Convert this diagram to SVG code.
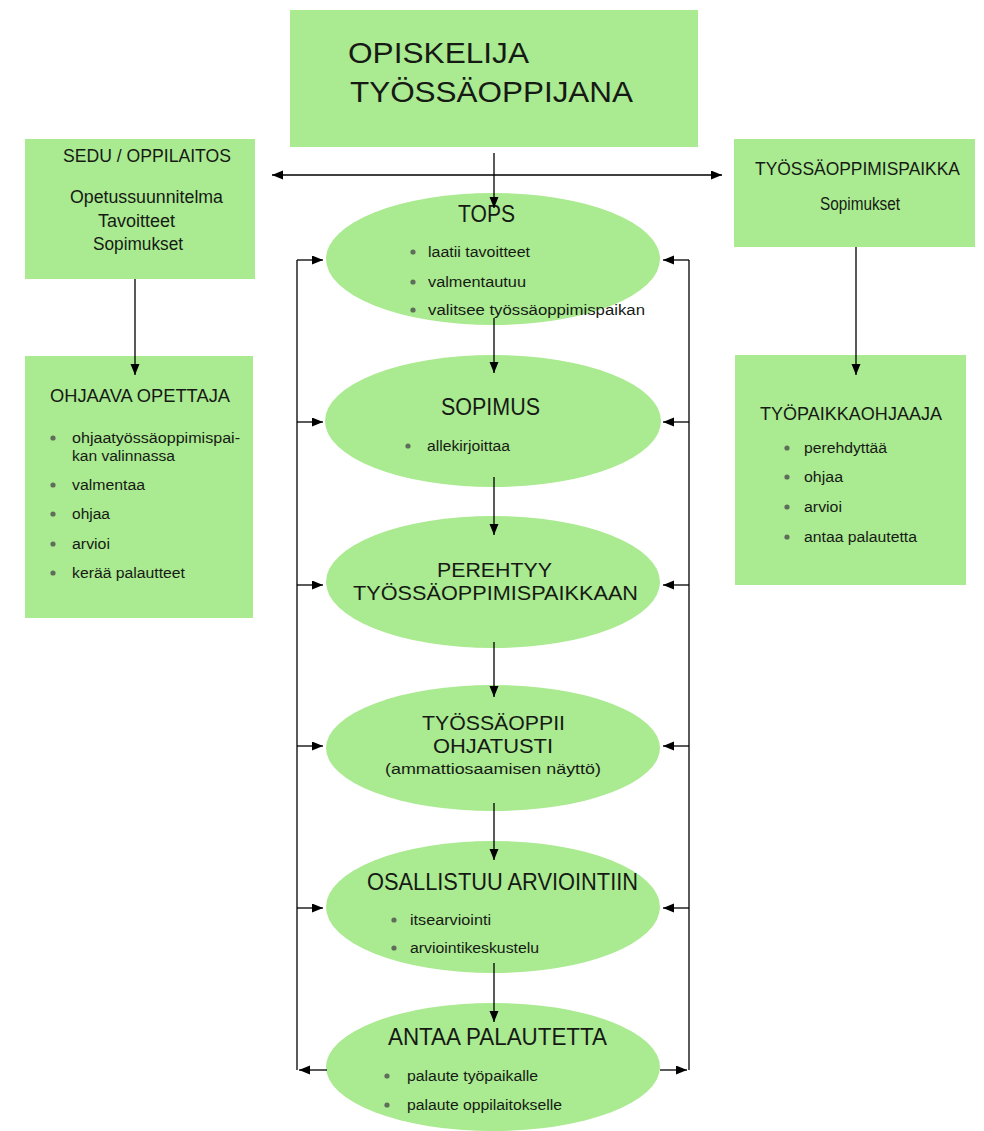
<svg xmlns="http://www.w3.org/2000/svg" width="984" height="1131" viewBox="0 0 984 1131">
<defs>
<style>
.box{fill:#aaea90;}
.t{font-family:"Liberation Sans",Arial,sans-serif;fill:#161a15;}
.big{font-size:30px;}
.hd{font-size:17.5px;}
.ti{font-size:23px;}
.ti2{font-size:20px;}
.sm{font-size:15.5px;}
.dot{fill:#5e6e5a;}
.ln{stroke:#000;stroke-width:1.3;fill:none;}
.ar{marker-end:url(#ah);}
</style>
<marker id="ah" markerWidth="12" markerHeight="10" refX="11" refY="4.5" orient="auto-start-reverse" markerUnits="userSpaceOnUse">
<path d="M0,0 L11,4.5 L0,9 z" fill="#000"/>
</marker>
</defs>
<rect width="984" height="1131" fill="#fff"/>

<g id="opiskelija">
<rect class="box" x="290" y="10" width="408" height="137"/>
<text class="t big" x="348" y="63" textLength="181" lengthAdjust="spacingAndGlyphs">OPISKELIJA</text>
<text class="t big" x="350" y="102" textLength="283" lengthAdjust="spacingAndGlyphs">TYÖSSÄOPPIJANA</text>
</g>

<g id="sedu">
<rect class="box" x="25" y="139" width="230" height="140"/>
<text class="t hd" x="63" y="162" textLength="168" lengthAdjust="spacingAndGlyphs">SEDU / OPPILAITOS</text>
<text class="t hd" x="70" y="203" textLength="153" lengthAdjust="spacingAndGlyphs">Opetussuunnitelma</text>
<text class="t hd" x="98" y="227" textLength="77" lengthAdjust="spacingAndGlyphs">Tavoitteet</text>
<text class="t hd" x="93" y="250" textLength="90" lengthAdjust="spacingAndGlyphs">Sopimukset</text>
</g>

<g id="tyossaoppimispaikka">
<rect class="box" x="734" y="139" width="241" height="108"/>
<text class="t hd" x="755" y="175" textLength="205" lengthAdjust="spacingAndGlyphs">TYÖSSÄOPPIMISPAIKKA</text>
<text class="t hd" x="820" y="210" textLength="80" lengthAdjust="spacingAndGlyphs">Sopimukset</text>
</g>

<g id="ohjaava">
<rect class="box" x="25" y="356" width="228" height="262"/>
<text class="t hd" x="50" y="402" textLength="180" lengthAdjust="spacingAndGlyphs">OHJAAVA OPETTAJA</text>
<circle class="dot" cx="53" cy="438" r="2.6"/>
<text class="t sm" x="72" y="443" textLength="168" lengthAdjust="spacingAndGlyphs">ohjaatyössäoppimispai-</text>
<text class="t sm" x="72" y="461" textLength="103" lengthAdjust="spacingAndGlyphs">kan valinnassa</text>
<circle class="dot" cx="53" cy="485" r="2.6"/>
<text class="t sm" x="72" y="490" textLength="73" lengthAdjust="spacingAndGlyphs">valmentaa</text>
<circle class="dot" cx="53" cy="514" r="2.6"/>
<text class="t sm" x="72" y="519" textLength="38" lengthAdjust="spacingAndGlyphs">ohjaa</text>
<circle class="dot" cx="53" cy="544" r="2.6"/>
<text class="t sm" x="72" y="549" textLength="38" lengthAdjust="spacingAndGlyphs">arvioi</text>
<circle class="dot" cx="53" cy="573" r="2.6"/>
<text class="t sm" x="72" y="578" textLength="113" lengthAdjust="spacingAndGlyphs">kerää palautteet</text>
</g>

<g id="tyopaikkaohjaaja">
<rect class="box" x="735" y="355" width="231" height="230"/>
<text class="t hd" x="760" y="420" textLength="182" lengthAdjust="spacingAndGlyphs">TYÖPAIKKAOHJAAJA</text>
<circle class="dot" cx="787" cy="448" r="2.6"/>
<text class="t sm" x="804" y="453" textLength="83" lengthAdjust="spacingAndGlyphs">perehdyttää</text>
<circle class="dot" cx="787" cy="477" r="2.6"/>
<text class="t sm" x="804" y="482" textLength="39" lengthAdjust="spacingAndGlyphs">ohjaa</text>
<circle class="dot" cx="787" cy="507" r="2.6"/>
<text class="t sm" x="804" y="512" textLength="38" lengthAdjust="spacingAndGlyphs">arvioi</text>
<circle class="dot" cx="787" cy="537" r="2.6"/>
<text class="t sm" x="804" y="542" textLength="113" lengthAdjust="spacingAndGlyphs">antaa palautetta</text>
</g>

<g id="tops">
<ellipse class="box" cx="493" cy="259" rx="167" ry="66"/>
<text class="t ti" x="458" y="222" textLength="57" lengthAdjust="spacingAndGlyphs">TOPS</text>
<circle class="dot" cx="413" cy="252" r="2.6"/>
<text class="t sm" x="428" y="257" textLength="102" lengthAdjust="spacingAndGlyphs">laatii tavoitteet</text>
<circle class="dot" cx="413" cy="282" r="2.6"/>
<text class="t sm" x="428" y="287" textLength="98" lengthAdjust="spacingAndGlyphs">valmentautuu</text>
<circle class="dot" cx="413" cy="310" r="2.6"/>
<text class="t sm" x="428" y="315" textLength="217" lengthAdjust="spacingAndGlyphs">valitsee työssäoppimispaikan</text>
</g>

<g id="sopimus">
<ellipse class="box" cx="493" cy="421" rx="168" ry="66"/>
<text class="t ti" x="441" y="415" textLength="99" lengthAdjust="spacingAndGlyphs">SOPIMUS</text>
<circle class="dot" cx="408" cy="446" r="2.6"/>
<text class="t sm" x="427" y="451" textLength="83" lengthAdjust="spacingAndGlyphs">allekirjoittaa</text>
</g>

<g id="perehtyy">
<ellipse class="box" cx="493" cy="582" rx="167" ry="66"/>
<text class="t ti2" x="437" y="577" textLength="115" lengthAdjust="spacingAndGlyphs">PEREHTYY</text>
<text class="t ti2" x="353" y="600" textLength="285" lengthAdjust="spacingAndGlyphs">TYÖSSÄOPPIMISPAIKKAAN</text>
</g>

<g id="tyossaoppii">
<ellipse class="box" cx="493" cy="748" rx="167" ry="63"/>
<text class="t ti2" x="422" y="730" textLength="143" lengthAdjust="spacingAndGlyphs">TYÖSSÄOPPII</text>
<text class="t ti2" x="433" y="753" textLength="120" lengthAdjust="spacingAndGlyphs">OHJATUSTI</text>
<text class="t sm" x="385" y="774" textLength="216" lengthAdjust="spacingAndGlyphs">(ammattiosaamisen näyttö)</text>
</g>

<g id="osallistuu">
<ellipse class="box" cx="493" cy="907" rx="167" ry="66"/>
<text class="t ti" x="367" y="890" textLength="271" lengthAdjust="spacingAndGlyphs">OSALLISTUU ARVIOINTIIN</text>
<circle class="dot" cx="394" cy="920" r="2.6"/>
<text class="t sm" x="410" y="925" textLength="81" lengthAdjust="spacingAndGlyphs">itsearviointi</text>
<circle class="dot" cx="394" cy="948" r="2.6"/>
<text class="t sm" x="410" y="953" textLength="129" lengthAdjust="spacingAndGlyphs">arviointikeskustelu</text>
</g>

<g id="antaa">
<ellipse class="box" cx="493" cy="1067" rx="167" ry="64"/>
<text class="t ti" x="388" y="1045" textLength="219" lengthAdjust="spacingAndGlyphs">ANTAA PALAUTETTA</text>
<circle class="dot" cx="387" cy="1076" r="2.6"/>
<text class="t sm" x="407" y="1081" textLength="131" lengthAdjust="spacingAndGlyphs">palaute työpaikalle</text>
<circle class="dot" cx="387" cy="1105" r="2.6"/>
<text class="t sm" x="407" y="1110" textLength="155" lengthAdjust="spacingAndGlyphs">palaute oppilaitokselle</text>
</g>

<g id="connectors">
<path class="ln" d="M272,175 H722" marker-start="url(#ah)" marker-end="url(#ah)"/>
<path class="ln ar" d="M494,153 V208"/>
<path class="ln ar" d="M135,279 V375"/>
<path class="ln ar" d="M856,247 V375"/>
<path class="ln ar" d="M494,318 V373"/>
<path class="ln ar" d="M494,477 V535"/>
<path class="ln ar" d="M494,642 V697"/>
<path class="ln ar" d="M494,803 V860"/>
<path class="ln ar" d="M494,963 V1022"/>
<path class="ln" d="M297,260 V1070"/>
<path class="ln" d="M689,260 V1070"/>
<path class="ln ar" d="M297,260 H323"/>
<path class="ln ar" d="M297,422 H323"/>
<path class="ln ar" d="M297,585 H323"/>
<path class="ln ar" d="M297,746 H323"/>
<path class="ln ar" d="M297,908 H323"/>
<path class="ln ar" d="M689,260 H663"/>
<path class="ln ar" d="M689,422 H663"/>
<path class="ln ar" d="M689,585 H663"/>
<path class="ln ar" d="M689,746 H663"/>
<path class="ln ar" d="M689,908 H663"/>
<path class="ln ar" d="M327,1070 H299"/>
<path class="ln ar" d="M660,1070 H687"/>
</g>
</svg>
